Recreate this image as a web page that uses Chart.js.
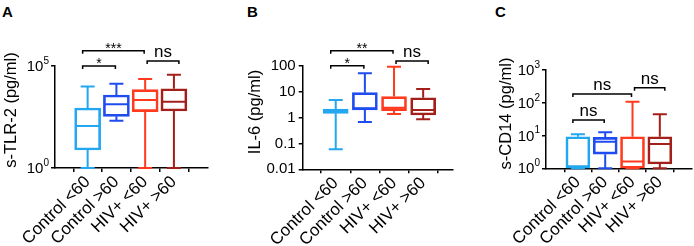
<!DOCTYPE html>
<html>
<head>
<meta charset="utf-8">
<script src="https://cdn.jsdelivr.net/npm/chart.js@4.4.1/dist/chart.umd.min.js"></script>
<style>
  body { margin: 0; background: #fff; width: 694px; height: 246px; position: relative; overflow: hidden; font-family: "Liberation Sans", Arial, sans-serif; }
  canvas { position: absolute; top: 0; }
  .tag { position: absolute; top: 3px; font-weight: bold; font-size: 15px; color: #000; }
</style>
</head>
<body>
<div class="tag" style="left:2px">A</div>
<div class="tag" style="left:247px">B</div>
<div class="tag" style="left:495px">C</div>
<canvas id="chartA" width="232" height="246" style="left:0"></canvas>
<canvas id="chartB" width="230" height="246" style="left:232px"></canvas>
<canvas id="chartC" width="232" height="246" style="left:462px"></canvas>
<script>
const FONT = '"Liberation Sans", Arial, sans-serif';

const groups = ["Control <60", "Control >60", "HIV+ <60", "HIV+ >60"];
const colors = ["#22a7f0", "#1f4cf0", "#ff3a1e", "#a3201a"];

// A: s-TLR-2 (pg/ml)
const tlrMin = [1, 208, 1, 1];
const tlrQ1  = [7.6, 340, 575, 620];
const tlrMed = [115, 1320, 2150, 1780];
const tlrQ3  = [870, 3800, 6900, 7700];
const tlrMax = [10000, 13500, 23000, 37500];
const tlrTicks = [1, 1e5];
const tlrSig  = [[0, 1, "*"], [0, 2, "***"], [2, 3, "ns"]];
const tlrSigY = [1e5, 5.6e5, 1.76e5];

// B: IL-6 (pg/ml)
const il6Min = [0.06, 0.67, 1.36, 0.85];
const il6Q1  = [1.45, 1.95, 1.83, 1.25];
const il6Med = [1.7, 2.26, 2.4, 1.95];
const il6Q3  = [2.1, 9.1, 6.4, 5.8];
const il6Max = [4.7, 51, 92, 12.6];
const il6Ticks = [0.01, 0.1, 1, 10, 100];
const il6Sig  = [[0, 1, "*"], [0, 2, "**"], [2, 3, "ns"]];
const il6SigY = [100, 380, 151];

// C: s-CD14 (pg/ml)
const cd14Min = [1, 1, 1, 1];
const cd14Q1  = [1, 2.7, 1, 1.35];
const cd14Med = [1.15, 6.5, 1.6, 5.5];
const cd14Q3  = [9.2, 8.8, 9.2, 9.2];
const cd14Max = [11, 12.5, 107, 45];
const cd14Ticks = [1, 10, 100, 1000];
const cd14Sig  = [[0, 1, "ns"], [0, 2, "ns"], [2, 3, "ns"]];
const cd14SigY = [29.6, 185, 286];

const boxPlot = {
  id: "boxPlot",
  afterDatasetsDraw(chart, args, o) {
    const { ctx, scales: { x, y } } = chart;
    ctx.save();
    ctx.lineWidth = 2;
    o.med.forEach((m, i) => {
      const cx = x.getPixelForValue(i + 1);
      const half = o.box / 2 - 1, cap = o.cap / 2;
      const yMin = y.getPixelForValue(o.min[i]);
      const yQ1 = y.getPixelForValue(o.q1[i]);
      const yMed = y.getPixelForValue(m);
      const yQ3 = y.getPixelForValue(o.q3[i]);
      const yMax = y.getPixelForValue(o.max[i]);
      ctx.strokeStyle = colors[i];
      ctx.beginPath();
      ctx.moveTo(cx, yQ3); ctx.lineTo(cx, yMax);
      ctx.moveTo(cx - cap, yMax); ctx.lineTo(cx + cap, yMax);
      ctx.moveTo(cx, yQ1); ctx.lineTo(cx, yMin);
      ctx.moveTo(cx - cap, yMin); ctx.lineTo(cx + cap, yMin);
      ctx.moveTo(cx - half, yMed); ctx.lineTo(cx + half, yMed);
      ctx.stroke();
    });
    ctx.restore();
  },
  afterDraw(chart, args, o) {
    const { ctx, scales: { x, y } } = chart;
    ctx.save();
    ctx.strokeStyle = "#000";
    ctx.fillStyle = "#000";

    // y axis title, a little above the plot's middle
    ctx.save();
    ctx.translate(o.titleX, o.titleY);
    ctx.rotate(-Math.PI / 2);
    ctx.font = "16.5px " + FONT;
    ctx.textAlign = "center";
    ctx.textBaseline = "middle";
    ctx.fillText(o.title, 0, 0);
    ctx.restore();

    // significance brackets
    ctx.lineWidth = 1.5;
    o.sig.forEach(([a, b, label], k) => {
      const x1 = x.getPixelForValue(a + 1) + (a === 0 ? -5 : 2);
      const x2 = x.getPixelForValue(b + 1) + (b === 3 ? 5 : -1);
      const yy = y.getPixelForValue(o.sigY[k]);
      ctx.beginPath();
      ctx.moveTo(x1, yy + 3); ctx.lineTo(x1, yy); ctx.lineTo(x2, yy); ctx.lineTo(x2, yy + 3);
      ctx.stroke();
      ctx.textAlign = "center";
      ctx.textBaseline = "alphabetic";
      if (label === "ns") {
        ctx.font = "17px " + FONT;
        ctx.fillText(label, (x1 + x2) / 2, yy - 4);
      } else {
        ctx.font = "14px " + FONT;
        ctx.fillText(label, (x1 + x2) / 2, yy + 2);
      }
    });

    // 10^n tick labels
    if (o.pow) {
      ctx.textAlign = "right";
      ctx.textBaseline = "middle";
      y.ticks.forEach(t => {
        const py = y.getPixelForValue(t.value);
        const e = String(Math.round(Math.log10(t.value)));
        const xr = y.right - 6;
        ctx.font = "10px " + FONT;
        const ew = ctx.measureText(e).width;
        ctx.fillText(e, xr, py - 5);
        ctx.font = "15px " + FONT;
        ctx.fillText("10", xr - ew, py + 1);
      });
    }
    ctx.restore();
  }
};

function makePanel(id, p) {
  const axisGrid = { display: true, drawOnChartArea: false, drawTicks: true, tickLength: 4, color: "#000", lineWidth: 1.5 };
  const axisBorder = { display: true, color: "#000", width: 1.5 };
  return new Chart(document.getElementById(id), {
    type: "bar",
    data: {
      datasets: [{
        data: p.q1.map((q, i) => ({ x: i + 1, y: [q, p.q3[i]] })),
        backgroundColor: "rgba(255,255,255,0)",
        borderColor: colors,
        borderWidth: 2,
        borderSkipped: false,
        barThickness: p.box
      }]
    },
    options: {
      responsive: false,
      animation: false,
      layout: { padding: { top: p.top, right: p.right, left: 0, bottom: 0 } },
      plugins: {
        legend: { display: false },
        tooltip: { enabled: false },
        boxPlot: {
          min: p.min, q1: p.q1, med: p.med, q3: p.q3, max: p.max, box: p.box, cap: 14,
          sig: p.sig, sigY: p.sigY, pow: p.pow, title: p.title, titleX: p.titleX, titleY: p.titleY
        }
      },
      scales: {
        x: {
          type: "linear",
          min: p.xMin, max: p.xMax,
          afterBuildTicks: s => { s.ticks = groups.map((g, i) => ({ value: i + 1 })); },
          afterFit: s => { s.height = p.bottom; },
          grid: axisGrid,
          border: axisBorder,
          ticks: { callback: v => groups[Math.round(v) - 1], minRotation: 45, maxRotation: 45, padding: 0, color: "#000", font: { size: 17, family: FONT } }
        },
        y: {
          type: "logarithmic",
          min: p.ticks[0], max: p.ticks[p.ticks.length - 1],
          afterBuildTicks: s => { s.ticks = p.ticks.map(v => ({ value: v })); },
          afterFit: s => { s.width = p.left; },
          grid: axisGrid,
          border: axisBorder,
          ticks: { display: !p.pow, callback: v => String(v), padding: 3, color: "#000", font: { size: 15, family: FONT } }
        }
      }
    },
    plugins: [boxPlot]
  });
}

makePanel("chartA", {
  title: "s-TLR-2 (pg/ml)", titleX: 11, titleY: 110, pow: true,
  min: tlrMin, q1: tlrQ1, med: tlrMed, q3: tlrQ3, max: tlrMax, ticks: tlrTicks, sig: tlrSig, sigY: tlrSigY,
  left: 55, right: 24, top: 66, bottom: 78, box: 26, xMin: 0.53, xMax: 4.52
});
makePanel("chartB", {
  title: "IL-6 (pg/ml)", titleX: 23, titleY: 112, pow: false,
  min: il6Min, q1: il6Q1, med: il6Med, q3: il6Q3, max: il6Max, ticks: il6Ticks, sig: il6Sig, sigY: il6SigY,
  left: 70.7, right: 9.3, top: 65.7, bottom: 76.7, box: 25, xMin: 0.51, xMax: 4.37
});
makePanel("chartC", {
  title: "s-CD14 (pg/ml)", titleX: 44, titleY: 113.5, pow: true,
  min: cd14Min, q1: cd14Q1, med: cd14Med, q3: cd14Q3, max: cd14Max, ticks: cd14Ticks, sig: cd14Sig, sigY: cd14SigY,
  left: 84, right: 2, top: 70, bottom: 77.7, box: 24, xMin: 0.5, xMax: 4.51
});
</script>
</body>
</html>
